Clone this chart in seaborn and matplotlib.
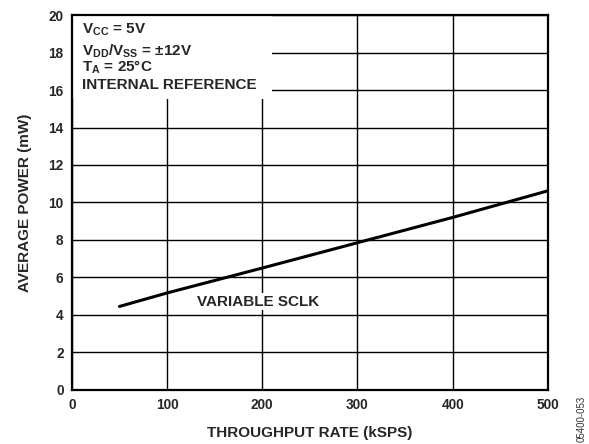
import numpy as np
import pandas as pd
import matplotlib
matplotlib.use("Agg")
import matplotlib.pyplot as plt
import seaborn as sns
from matplotlib.patches import Rectangle

# data
throughput = [50, 100, 200, 300, 400, 500]
power = [4.45, 5.17, 6.5, 7.85, 9.2, 10.62]

x_ticks = [0, 100, 200, 300, 400, 500]
y_ticks = [0, 2, 4, 6, 8, 10, 12, 14, 16, 18, 20]

df = pd.DataFrame({"rate": throughput, "power": power})

sns.set_style("white")
plt.rcParams['font.family'] = ['Liberation Sans', 'DejaVu Sans']
plt.rcParams['font.weight'] = 'bold'
plt.rcParams['mathtext.fontset'] = 'custom'
plt.rcParams['mathtext.bf'] = 'Liberation Sans:bold'

fig = plt.figure(figsize=(5.89, 4.44), dpi=100)
ax = fig.add_axes([0.122, 0.122, 0.808, 0.844])

sns.lineplot(data=df, x="rate", y="power", color="black", linewidth=2.2, ax=ax, zorder=5)

ax.set_xlim(0, 500)
ax.set_ylim(0, 20)
ax.set_xticks(x_ticks)
ax.set_yticks(y_ticks)
ax.grid(True, color="black", linewidth=1.0)
ax.tick_params(length=0, labelsize=9.8, pad=6)
for lbl in ax.get_xticklabels() + ax.get_yticklabels():
    lbl.set_fontweight('bold')
for s in ax.spines.values():
    s.set_color("black")
    s.set_linewidth(1.6)
    s.set_zorder(6)

ax.set_xlabel("THROUGHPUT RATE (kSPS)", fontsize=11, fontweight='bold', labelpad=10)
ax.set_ylabel("AVERAGE POWER (mW)", fontsize=11, fontweight='bold', labelpad=12)

# white box behind the conditions text
ax.add_patch(Rectangle((0, 15.5), 210, 4.5, facecolor="white", edgecolor="none", zorder=3))
cond = [r"V$_{\mathbf{CC}}$ = 5V",
        r"V$_{\mathbf{DD}}$/V$_{\mathbf{SS}}$ = ±12V",
        r"T$_{\mathbf{A}}$ = 25°C",
        "INTERNAL REFERENCE"]
ys = [19.2, 18.1, 17.2, 16.25]
for t, yy in zip(cond, ys):
    ax.text(11, yy, t, fontsize=11, fontweight='bold', va='center', ha='left', zorder=4)

ax.text(196, 4.7, "VARIABLE SCLK", fontsize=11, fontweight='bold', ha='center', va='center',
        zorder=4, bbox=dict(facecolor="white", edgecolor="none", pad=1.0))

fig.text(0.987, 0.005, "05400-053", rotation=90, fontsize=7, color="#333333",
         ha='center', va='bottom', fontweight='normal')

fig.savefig("out.png", dpi=100)
